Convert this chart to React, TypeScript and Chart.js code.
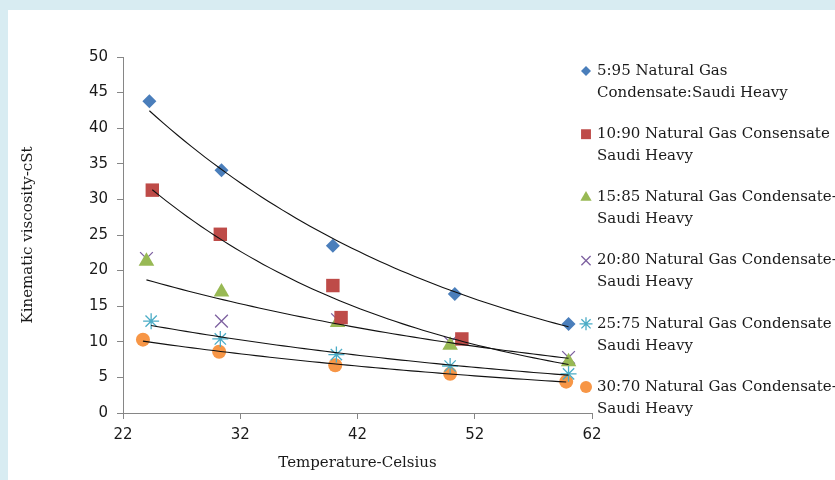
import React, { useEffect, useRef } from "react";
import { Chart, registerables } from "chart.js";
import { drawPoint } from "chart.js/helpers";

Chart.register(...registerables);

// ---- data ----
const seriesLabels: string[][] = [
  ["5:95 Natural Gas", "Condensate:Saudi Heavy"],
  ["10:90 Natural Gas Consensate", "Saudi Heavy"],
  ["15:85 Natural Gas Condensate-", "Saudi Heavy"],
  ["20:80 Natural Gas Condensate-", "Saudi Heavy"],
  ["25:75 Natural Gas Condensate", "Saudi Heavy"],
  ["30:70 Natural Gas Condensate-", "Saudi Heavy"],
];

const temp595 = [24.25, 30.4, 39.9, 50.3, 60.0];
const visc595 = [43.8, 34.1, 23.5, 16.7, 12.5];

const temp1090 = [24.5, 30.3, 39.9, 40.6, 50.9];
const visc1090 = [31.3, 25.1, 17.9, 13.4, 10.4];

const temp1585 = [24.0, 30.4, 40.3, 49.9, 60.0];
const visc1585 = [21.3, 17.0, 12.7, 9.5, 7.2];

const temp2080 = [24.0, 30.4, 40.3, 49.9, 60.0];
const visc2080 = [21.7, 12.9, 13.1, 9.9, 7.8];

const temp2575 = [24.4, 30.3, 40.2, 49.9, 60.0];
const visc2575 = [12.9, 10.4, 8.2, 6.6, 5.5];

const temp3070 = [23.7, 30.2, 40.1, 49.9, 59.8];
const visc3070 = [10.3, 8.6, 6.7, 5.5, 4.4];

// exponential trendline shown? and its x range (series 10:90 is forecast forward to 60)
const trendShown = [true, true, false, true, true, true];
const trendEnd = [60.0, 60.0, 60.0, 60.0, 60.0, 59.8];

const xTicks = [22, 32, 42, 52, 62];
const yTicks = [0, 5, 10, 15, 20, 25, 30, 35, 40, 45, 50];

const xTitle = "Temperature-Celsius";
const yTitle = "Kinematic viscosity-cSt";

// ---- styling ----
const temps = [temp595, temp1090, temp1585, temp2080, temp2575, temp3070];
const viscs = [visc595, visc1090, visc1585, visc2080, visc2575, visc3070];
const colors = ["#4a7ebb", "#be4b48", "#98b954", "#7d60a0", "#4bacc6", "#f79646"];
const styles = ["rectRot", "rect", "triangle", "crossRot", "star", "circle"];
const radii = [7, 9.5, 9, 9, 8, 7];
const legendRadii = [5, 7, 6.5, 6.5, 6.5, 6];
const stroked = [false, false, false, true, true, false];

function expFit(xs: number[], ys: number[]) {
  const n = xs.length;
  const ly = ys.map((v) => Math.log(v));
  const mx = xs.reduce((a, b) => a + b, 0) / n;
  const my = ly.reduce((a, b) => a + b, 0) / n;
  let sxy = 0;
  let sxx = 0;
  for (let i = 0; i < n; i++) {
    sxy += (xs[i] - mx) * (ly[i] - my);
    sxx += (xs[i] - mx) * (xs[i] - mx);
  }
  const b = sxy / sxx;
  const a = my - b * mx;
  return (x: number) => Math.exp(a + b * x);
}

function trendPoints(i: number) {
  const xs = temps[i];
  const f = expFit(xs, viscs[i]);
  const x0 = Math.min(...xs);
  const x1 = trendEnd[i];
  const pts: { x: number; y: number }[] = [];
  const steps = 60;
  for (let k = 0; k <= steps; k++) {
    const x = x0 + ((x1 - x0) * k) / steps;
    pts.push({ x, y: f(x) });
  }
  return pts;
}

const legendPlugin = {
  id: "customLegend",
  afterDraw(chart: any) {
    const ctx = chart.ctx as CanvasRenderingContext2D;
    ctx.save();
    const markerX = 578;
    const textX = 589;
    const top = 61;
    const pitch = 63.2;
    const lineH = 22;
    ctx.font = '15px "DejaVu Serif"';
    ctx.textBaseline = "middle";
    ctx.textAlign = "left";
    seriesLabels.forEach((lines, i) => {
      const y = top + i * pitch;
      ctx.fillStyle = colors[i];
      ctx.strokeStyle = colors[i];
      ctx.lineWidth = 1.3;
      drawPoint(
        ctx,
        {
          pointStyle: styles[i] as any,
          radius: legendRadii[i],
          rotation: 0,
          borderWidth: stroked[i] ? 1.3 : 0,
        } as any,
        markerX,
        y
      );
      ctx.fillStyle = "#1a1a1a";
      lines.forEach((t, j) => ctx.fillText(t, textX, y + j * lineH));
    });
    ctx.restore();
  },
};

export default function App() {
  const ref = useRef<HTMLCanvasElement | null>(null);

  useEffect(() => {
    document.body.style.margin = "0";
    const canvas = ref.current;
    if (!canvas) return;

    const trendSets: any[] = [];
    temps.forEach((_, i) => {
      if (!trendShown[i]) return;
      trendSets.push({
        label: "trend" + i,
        data: trendPoints(i),
        showLine: true,
        borderColor: "#111111",
        borderWidth: 1.1,
        pointRadius: 0,
        pointHoverRadius: 0,
        fill: false,
        tension: 0,
      });
    });

    const pointSets = temps.map((xs, i) => ({
      label: seriesLabels[i].join(" "),
      data: xs.map((x, k) => ({ x, y: viscs[i][k] })),
      showLine: false,
      pointStyle: styles[i],
      pointRadius: radii[i],
      pointHoverRadius: radii[i],
      backgroundColor: colors[i],
      borderColor: colors[i],
      borderWidth: stroked[i] ? 1.3 : 0,
    }));

    const chart = new Chart(canvas, {
      type: "scatter",
      data: { datasets: [...trendSets, ...pointSets] },
      options: {
        animation: false,
        responsive: false,
        maintainAspectRatio: false,
        layout: { padding: { top: 47, right: 243, left: 0, bottom: 0 } },
        plugins: {
          legend: { display: false },
          tooltip: { enabled: false },
        },
        scales: {
          x: {
            type: "linear",
            min: 22,
            max: 62,
            afterBuildTicks: (scale: any) => {
              scale.ticks = xTicks.map((v) => ({ value: v }));
            },
            afterFit: (scale: any) => {
              scale.height = 61;
            },
            grid: {
              display: true,
              drawOnChartArea: false,
              drawTicks: true,
              tickLength: 6,
              color: "#868686",
            },
            border: { display: true, color: "#868686", width: 1 },
            ticks: {
              padding: 7,
              color: "#1a1a1a",
              font: { family: '"DejaVu Sans"', size: 15 },
              maxRotation: 0,
            },
            title: {
              display: true,
              text: xTitle,
              color: "#1a1a1a",
              font: { family: '"DejaVu Serif"', size: 15 },
              padding: { top: 2, bottom: 2 },
            },
          },
          y: {
            type: "linear",
            min: 0,
            max: 50,
            afterBuildTicks: (scale: any) => {
              scale.ticks = yTicks.map((v) => ({ value: v }));
            },
            afterFit: (scale: any) => {
              scale.width = 115;
            },
            grid: {
              display: true,
              drawOnChartArea: false,
              drawTicks: true,
              tickLength: 6,
              color: "#868686",
            },
            border: { display: true, color: "#868686", width: 1 },
            ticks: {
              padding: 9,
              color: "#1a1a1a",
              font: { family: '"DejaVu Sans"', size: 15 },
            },
            title: {
              display: true,
              text: yTitle,
              color: "#1a1a1a",
              font: { family: '"DejaVu Serif"', size: 15 },
              padding: { top: 11, bottom: 0 },
            },
          },
        },
      },
      plugins: [legendPlugin],
    } as any);

    return () => chart.destroy();
  }, []);

  return (
    <div
      style={{
        position: "relative",
        width: 835,
        height: 480,
        background: "#d8ecf2",
        overflow: "hidden",
      }}
    >
      <div
        style={{
          position: "absolute",
          left: 8,
          top: 10,
          width: 827,
          height: 470,
          background: "#ffffff",
        }}
      >
        <canvas ref={ref} width={827} height={464} style={{ display: "block", width: 827, height: 464 }} />
      </div>
    </div>
  );
}
